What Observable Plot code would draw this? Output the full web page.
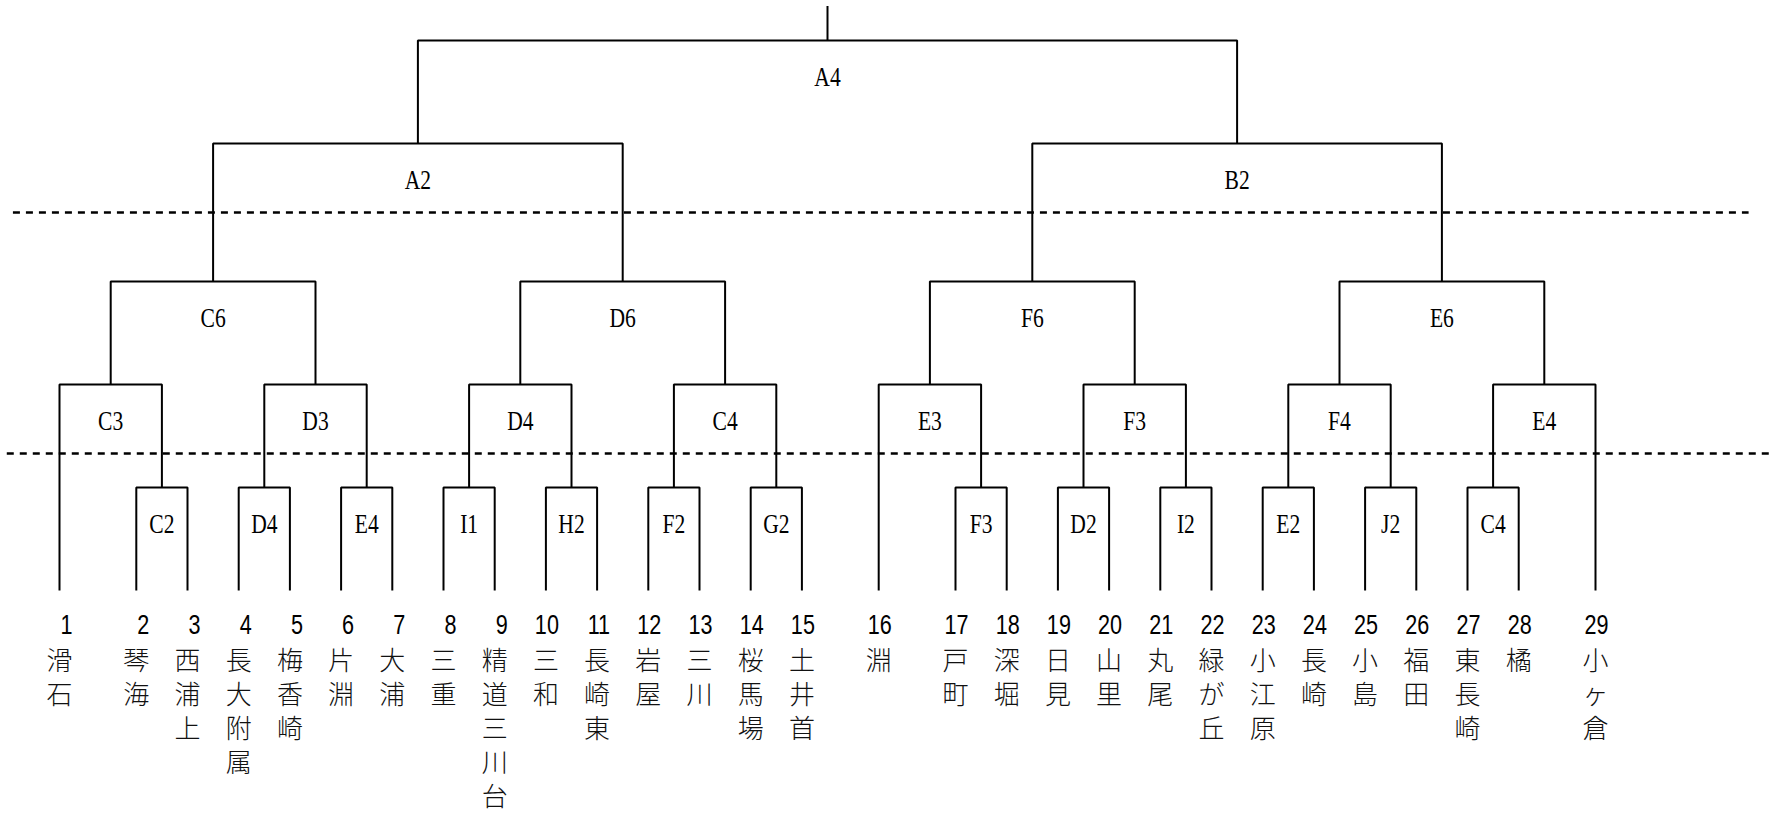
<!DOCTYPE html>
<html>
<head>
<meta charset="utf-8">
<script src="https://cdn.jsdelivr.net/npm/d3@7"></script>
<script src="https://cdn.jsdelivr.net/npm/@observablehq/plot@0.6"></script>
<style>
  html, body { margin: 0; padding: 0; background: #fff; overflow: hidden; }
  #chart svg { display: block; }
</style>
</head>
<body>
<div id="chart"></div>
<script>
// ---- data ----
const schools = ["滑石","琴海","西浦上","長大附属","梅香崎","片淵","大浦","三重","精道三川台","三和",
  "長崎東","岩屋","三川","桜馬場","土井首","淵","戸町","深堀","日見","山里",
  "丸尾","緑が丘","小江原","長崎","小島","福田","東長崎","橘","小ヶ倉"];
// first-round entries in bracket order (a single seed = bye)
const round1Seeds = [[1],[2,3],[4,5],[6,7],[8,9],[10,11],[12,13],[14,15],
  [16],[17,18],[19,20],[21,22],[23,24],[25,26],[27,28],[29]];
const round1Labels = ["","C2","D4","E4","I1","H2","F2","G2","","F3","D2","I2","E2","J2","C4",""];
const round2Labels = ["C3","D3","D4","C4","E3","F3","F4","E4"];
const round3Labels = ["C6","D6","F6","E6"];
const round4Labels = ["A2","B2"];
const finalLabels = ["A4"];
// dashed separators, expressed in bracket levels
const separatorLevels = [3.5, 1.33];

// ---- layout from the bracket structure ----
const byes = new Set(round1Seeds.filter(s => s.length === 1).map(s => s[0]));
const seeds = schools.map((name, i) => ({n: i + 1, name}));
let pos = 0;
seeds.forEach((s, i) => {
  if (i > 0) pos += (byes.has(s.n) || byes.has(s.n - 1)) ? 1.5 : 1;
  s.x = pos;
});
const seedX = n => seeds[n - 1].x;

const matches = [];
let prev = round1Seeds.map((ss, i) => {
  if (ss.length === 1) return {x: seedX(ss[0]), level: 0, children: []};
  const node = {x: d3.mean(ss, seedX), level: 1, label: round1Labels[i],
    children: ss.map(n => ({x: seedX(n), level: 0}))};
  matches.push(node);
  return node;
});
[round2Labels, round3Labels, round4Labels, finalLabels].forEach((labels, k) => {
  const level = k + 2;
  prev = labels.map((label, i) => {
    const children = [prev[2 * i], prev[2 * i + 1]];
    const node = {x: (children[0].x + children[1].x) / 2, level, label, children};
    matches.push(node);
    return node;
  });
});
const root = prev[0];

const pathPts = matches.flatMap((m, id) => {
  const [a, b] = m.children;
  return [
    {id, x: a.x, y: a.level}, {id, x: a.x, y: m.level},
    {id, x: b.x, y: m.level}, {id, x: b.x, y: b.level}
  ];
});
const separators = separatorLevels.map((level, i) => ({level, x1: i === 0 ? -0.9 : -1.02, x2: i === 0 ? 33.0 : 33.4}));

// vertical spacing of bracket levels (the level above round 3 is taller)
const levelHeight = d3.scaleLinear().domain([0, 1, 2, 3, 4, 5, 6]).range([0, 103, 206, 309, 447, 550, 584]);

const chart = Plot.plot({
  width: 1782,
  height: 816,
  margin: 0,
  x: {domain: [0, 30], range: [59, 1595], axis: null},
  y: {transform: levelHeight, domain: [0, 584], range: [590, 6], axis: null},
  marks: [
    Plot.ruleY(separators, {y: "level", x1: "x1", x2: "x2", stroke: "#000", strokeWidth: 2.5, strokeDasharray: "7,6"}),
    Plot.line(pathPts, {x: "x", y: "y", z: "id", stroke: "#000", strokeWidth: 2, strokeLinejoin: "miter", strokeLinecap: "butt"}),
    Plot.ruleX([root], {x: "x", y1: 5, y2: 6, stroke: "#000", strokeWidth: 2}),
    Plot.text(matches, {x: "x", y: "level", text: "label", dy: 37, fontFamily: "Liberation Serif", fontSize: 28, fill: "#000"}),
    Plot.text(seeds, {x: "x", y: () => 0, text: d => String(d.n), dy: 35, dx: 13, textAnchor: "end", fontFamily: "Liberation Sans", fontSize: 27, fill: "#000"}),
    Plot.text(seeds, {x: "x", y: () => 0, text: d => Array.from(d.name).join("\n"), lineAnchor: "top", lineHeight: 34 / 26, dy: 55, fontFamily: "Noto Sans CJK JP", fontWeight: 300, fontSize: 26, fill: "#111"})
  ]
});
document.getElementById("chart").append(chart);

// narrow half-width look for Latin labels and digits
function compress(sel, factor) {
  chart.querySelectorAll(sel).forEach(t => {
    const len = t.getComputedTextLength();
    t.setAttribute("textLength", (len * factor).toFixed(2));
    t.setAttribute("lengthAdjust", "spacingAndGlyphs");
  });
}
compress('g[font-family="Liberation Serif"] text', 0.77);
compress('g[font-family="Liberation Sans"] text', 0.8);
</script>
</body>
</html>
